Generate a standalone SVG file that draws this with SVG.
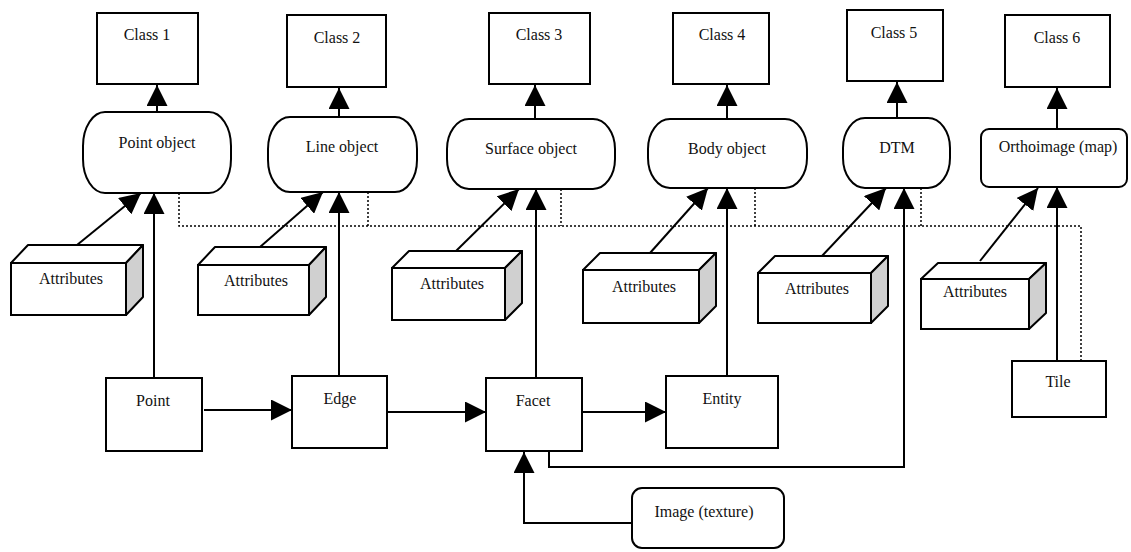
<svg xmlns="http://www.w3.org/2000/svg" width="1131" height="552" viewBox="0 0 1131 552">
<style>
.box{fill:#fff;stroke:#000;stroke-width:2}
.side{fill:#d0d0d0;stroke:#000;stroke-width:2;stroke-linejoin:round}
.top{fill:#fff;stroke:#000;stroke-width:2;stroke-linejoin:round}
.t{font-family:"Liberation Serif","Times New Roman",serif;font-size:16px;fill:#111;text-anchor:middle}
.c{fill:none;stroke:#000;stroke-width:2}
.a{fill:none;stroke:#000;stroke-width:2;marker-end:url(#ah)}
.d{fill:none;stroke:#000;stroke-width:1.5;stroke-dasharray:2,2}
</style>
<defs>
<marker id="ah" markerUnits="userSpaceOnUse" markerWidth="21" markerHeight="21" refX="21" refY="10.5" orient="auto" viewBox="0 0 21 21">
<path d="M0,0 L21,10.5 L0,21 z" fill="#000"/>
</marker>
</defs>
<rect width="1131" height="552" fill="#fff"/>

<g id="connectors">
<path class="d" d="M179,193 V226 H1081 V361"/>
<path class="d" d="M368,192 V226"/>
<path class="d" d="M561,189 V226"/>
<path class="d" d="M755,188 V226"/>
<path class="d" d="M921,188 V226"/>
<path class="a" d="M157,112 V85"/>
<path class="a" d="M339,117 V88"/>
<path class="a" d="M535,119 V85"/>
<path class="a" d="M727,119 V85"/>
<path class="a" d="M897,118 V82"/>
<path class="a" d="M1057,129 V88"/>
<path class="a" d="M77,245 L141,193"/>
<path class="a" d="M260,247 L323,192"/>
<path class="a" d="M456,251 L519,189"/>
<path class="a" d="M650,253 L708,188"/>
<path class="a" d="M822,256 L886,188"/>
<path class="a" d="M980,261 L1038,188"/>
<path class="a" d="M154,378 V193"/>
<path class="a" d="M339,376 V192"/>
<path class="a" d="M536,378 V189"/>
<path class="a" d="M727,376 V188"/>
<path class="a" d="M1057,361 V187"/>
<path class="a" d="M549,451 V467 H904 V188"/>
<path class="a" d="M204,410 H292"/>
<path class="a" d="M387,412 H486"/>
<path class="a" d="M582,412 H666"/>
<path class="a" d="M632,523 H524 V452"/>
</g>

<g id="class1"><rect class="box" x="97" y="13" width="101" height="71"/><text class="t" x="147" y="40">Class 1</text></g>
<g id="class2"><rect class="box" x="287" y="15" width="99" height="72"/><text class="t" x="337" y="43">Class 2</text></g>
<g id="class3"><rect class="box" x="489" y="13" width="101" height="71"/><text class="t" x="539" y="40">Class 3</text></g>
<g id="class4"><rect class="box" x="673" y="13" width="96" height="71"/><text class="t" x="722" y="40">Class 4</text></g>
<g id="class5"><rect class="box" x="847" y="10" width="96" height="71"/><text class="t" x="894" y="38">Class 5</text></g>
<g id="class6"><rect class="box" x="1005" y="15" width="105" height="72"/><text class="t" x="1057" y="43">Class 6</text></g>

<g id="pointobject"><rect class="box" x="83" y="112" width="148" height="81" rx="22" ry="34"/><text class="t" x="157" y="148">Point object</text></g>
<g id="lineobject"><rect class="box" x="268" y="117" width="149" height="75" rx="22" ry="32"/><text class="t" x="342" y="152">Line object</text></g>
<g id="surfaceobject"><rect class="box" x="447" y="119" width="168" height="70" rx="22" ry="30"/><text class="t" x="531" y="154">Surface object</text></g>
<g id="bodyobject"><rect class="box" x="648" y="119" width="159" height="69" rx="22" ry="30"/><text class="t" x="727" y="154">Body object</text></g>
<g id="dtm"><rect class="box" x="843" y="118" width="107" height="70" rx="22" ry="30"/><text class="t" x="897" y="153">DTM</text></g>
<g id="orthoimage"><rect class="box" x="981" y="129" width="146" height="58" rx="8" ry="8"/><text class="t" x="1058" y="152">Orthoimage (map)</text></g>

<g id="attributes1">
<polygon class="top" points="11,263 28,245 143,245 126,263"/>
<polygon class="side" points="126,263 143,245 143,297 126,315"/>
<rect class="box" x="11" y="263" width="115" height="52"/>
<text class="t" x="71" y="284">Attributes</text>
</g>
<g id="attributes2">
<polygon class="top" points="198,265 215,247 326,247 309,265"/>
<polygon class="side" points="309,265 326,247 326,297 309,315"/>
<rect class="box" x="198" y="265" width="111" height="50"/>
<text class="t" x="256" y="286">Attributes</text>
</g>
<g id="attributes3">
<polygon class="top" points="392,268 409,251 522,251 505,268"/>
<polygon class="side" points="505,268 522,251 522,303 505,320"/>
<rect class="box" x="392" y="268" width="113" height="52"/>
<text class="t" x="452" y="289">Attributes</text>
</g>
<g id="attributes4">
<polygon class="top" points="583,270 600,253 716,253 699,270"/>
<polygon class="side" points="699,270 716,253 716,306 699,323"/>
<rect class="box" x="583" y="270" width="116" height="53"/>
<text class="t" x="644" y="292">Attributes</text>
</g>
<g id="attributes5">
<polygon class="top" points="758,273 775,256 888,256 871,273"/>
<polygon class="side" points="871,273 888,256 888,306 871,323"/>
<rect class="box" x="758" y="273" width="113" height="50"/>
<text class="t" x="817" y="294">Attributes</text>
</g>
<g id="attributes6">
<polygon class="top" points="921,279 938,263 1046,263 1029,279"/>
<polygon class="side" points="1029,279 1046,263 1046,313 1029,329"/>
<rect class="box" x="921" y="279" width="108" height="50"/>
<text class="t" x="975" y="297">Attributes</text>
</g>

<g id="point"><rect class="box" x="106" y="378" width="96" height="73"/><text class="t" x="153" y="406">Point</text></g>
<g id="edge"><rect class="box" x="292" y="376" width="95" height="72"/><text class="t" x="340" y="404">Edge</text></g>
<g id="facet"><rect class="box" x="486" y="378" width="96" height="73"/><text class="t" x="533" y="406">Facet</text></g>
<g id="entity"><rect class="box" x="666" y="376" width="112" height="72"/><text class="t" x="722" y="404">Entity</text></g>
<g id="tile"><rect class="box" x="1012" y="361" width="94" height="56"/><text class="t" x="1058" y="387">Tile</text></g>
<g id="image"><rect class="box" x="632" y="488" width="152" height="60" rx="10" ry="10"/><text class="t" x="704" y="517">Image (texture)</text></g>
</svg>
